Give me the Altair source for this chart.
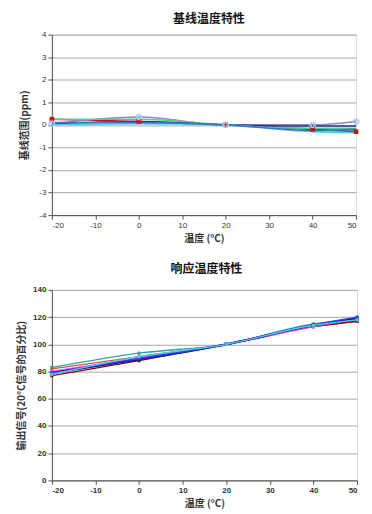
import altair as alt
import pandas as pd

# ---------------- data ----------------
temps = [-20, 0, 20, 40, 50]

# Baseline temperature characteristics (ppm)
base_series = ["S1", "S2", "S3", "S4", "S5", "S6"]
base_values = [
    [0.25, 0.15, 0.0, -0.20, -0.30],   # red (square markers)
    [0.05, 0.35, 0.0, 0.00, 0.15],     # purple (x markers)
    [0.25, 0.25, 0.0, -0.15, -0.15],   # green
    [0.05, 0.15, 0.0, -0.05, -0.05],   # navy
    [0.00, 0.05, 0.0, -0.30, -0.35],   # light blue
    [0.10, 0.10, 0.0, -0.25, -0.20],   # blue
]
base_colors = ["#cc1111", "#9b80c4", "#4ccf9a", "#2a3585", "#55c8f0", "#3a78c0"]

# Response temperature characteristics (% of 20°C signal)
resp_series = ["R1", "R2", "R3", "R4", "R5", "R6", "R7"]
resp_values = [
    [83, 93.5, 100, 115, 118],   # teal
    [82, 91, 100, 113, 117],     # red
    [77, 88, 100, 113, 117],     # dark red
    [80, 90, 100, 113, 119],     # magenta
    [79, 89, 100, 114, 119],     # navy
    [79, 89.5, 100, 114.5, 120], # blue
    [78, 91, 100, 114, 118],     # cyan
]
resp_colors = ["#3aa0a0", "#c85a50", "#8b0000", "#ff44ff", "#1a1a8c", "#2244ee", "#44ccee"]

base_rows = []
for s, vals in zip(base_series, base_values):
    for t, v in zip(temps, vals):
        base_rows.append({"series": s, "temp": t, "value": v})
base_df = pd.DataFrame(base_rows)

resp_rows = []
for s, vals in zip(resp_series, resp_values):
    for t, v in zip(temps, vals):
        resp_rows.append({"rseries": s, "temp": t, "value": v})
resp_df = pd.DataFrame(resp_rows)

x_ticks = [-20, -10, 0, 10, 20, 30, 40, 50]
base_ticks = [-4, -3, -2, -1, 0, 1, 2, 3, 4]
resp_ticks = [0, 20, 40, 60, 80, 100, 120, 140]

LAT = "Liberation Sans"
CJK = "Noto Sans CJK SC"
GRID = "#a6a6a6"
DOMAIN = "#505050"
MINUS = "replace(datum.label, '\u2212', '-')"


def axis(title, values, bold, grid, title_pad):
    return alt.Axis(values=values, title=title, grid=grid, gridColor=GRID, labelOverlap=False,
                    labelExpr=MINUS,
                    labelFont=LAT, labelFontSize=8, labelFontWeight="bold" if bold else "normal",
                    labelColor="#333",
                    titleFont=CJK, titleFontSize=10, titleFontWeight="bold", titleColor="#333",
                    tickSize=4, tickColor=DOMAIN, domainColor=DOMAIN, labelPadding=2,
                    titlePadding=title_pad)


# ---------------- top chart ----------------
xb = alt.X("temp:Q", scale=alt.Scale(domain=[-20, 50], nice=False),
           axis=axis("温度 (°C)", x_ticks, False, False, 4))
yb = alt.Y("value:Q", scale=alt.Scale(domain=[-4, 4], nice=False),
           axis=axis("基线范围(ppm)", base_ticks, False, True, 9))
cb = alt.Color("series:N", scale=alt.Scale(domain=base_series, range=base_colors), legend=None)

base = alt.Chart(base_df).encode(x=xb, y=yb)
base_lines = base.mark_line(interpolate="monotone", strokeWidth=1.6).encode(color=cb)
base_sq = base.transform_filter(alt.datum.series == "S1").mark_point(
    shape="square", filled=True, size=22, color="#cc1111", opacity=1)
base_x = base.transform_filter(alt.datum.series == "S2").mark_point(
    shape="cross", filled=False, size=28, color="#a8c8f0", strokeWidth=1.2, opacity=1)

top = alt.layer(base_lines, base_sq, base_x).properties(
    width=305, height=181,
    title=alt.TitleParams("基线温度特性", font=CJK, fontSize=12, fontWeight="bold", color="#111",
                          offset=5, dx=5),
)

# ---------------- bottom chart ----------------
xr = alt.X("temp:Q", scale=alt.Scale(domain=[-20, 50], nice=False),
           axis=axis("温度 (°C)", x_ticks, True, False, 4))
yr = alt.Y("value:Q", scale=alt.Scale(domain=[0, 140], nice=False),
           axis=axis("输出信号(20°C信号的百分比)", resp_ticks, True, True, 6))
cr = alt.Color("rseries:N", scale=alt.Scale(domain=resp_series, range=resp_colors), legend=None)
sw = alt.condition(alt.datum.rseries == "R5", alt.value(2.2), alt.value(1.4))

resp = alt.Chart(resp_df).encode(x=xr, y=yr, color=cr)
resp_lines = resp.mark_line(interpolate="monotone").encode(strokeWidth=sw)
resp_pts = resp.mark_point(shape="square", filled=True, size=10, opacity=1)

bottom = alt.layer(resp_lines, resp_pts).properties(
    width=306, height=191,
    title=alt.TitleParams("响应温度特性", font=CJK, fontSize=12, fontWeight="bold", color="#111",
                          offset=10, dx=2),
)

chart = alt.vconcat(top, bottom, spacing=18).resolve_scale(
    color="independent", x="independent", y="independent"
).properties(
    padding={"left": 8, "top": 3, "right": 2, "bottom": 0}
).configure_view(stroke=GRID, strokeWidth=1).configure(background="white")

chart.save("out.html", embed_options={"renderer": "svg", "actions": False})
